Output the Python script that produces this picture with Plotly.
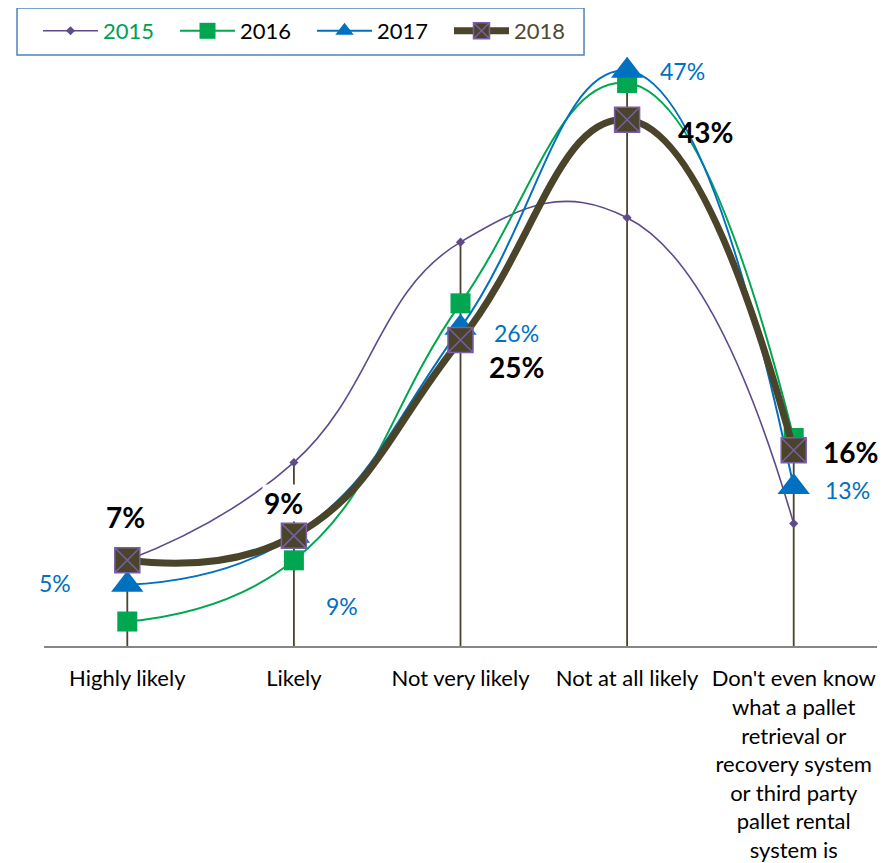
import plotly.graph_objects as go

categories = [
    "Highly likely",
    "Likely",
    "Not very likely",
    "Not at all likely",
    "Don't even know<br>what a pallet<br>retrieval or<br>recovery system<br>or third party<br>pallet rental<br>system is",
]
years = ["2015", "2016", "2017", "2018"]
v2015 = [7, 15, 33, 35, 10]
v2016 = [2, 7, 28, 46, 17]
v2017 = [5, 9, 26, 47, 13]
v2018 = [7, 9, 25, 43, 16]

# styling
colors = {"2015": "#5f4b8b", "2016": "#00a650", "2017": "#0070c0", "2018": "#4a442a"}
legend_text = {"2015": "#00a04f", "2016": "#000000", "2017": "#000000", "2018": "#4f4a32"}
FONT = "Lato"
SMOOTH = 1.3

# label offsets in px (dx right, dy down) from each point
off2018 = [(-2, -43), (-10, -33), (56, 27), (78, 12), (57, 2)]
bg2018 = ["white", "white", "white", "rgba(0,0,0,0)", "white"]
off2017 = [(-72, -2), (48, 70), (56, 5), (55, 0), (54, 3)]

fig = go.Figure()

# drop lines from the highest point of each category to the axis
all_vals = [v2015, v2016, v2017, v2018]
dx, dy = [], []
for i, c in enumerate(categories):
    dx += [c, c, None]
    dy += [0, max(s[i] for s in all_vals), None]
fig.add_trace(go.Scatter(x=dx, y=dy, mode="lines", showlegend=False, hoverinfo="skip",
                         line=dict(color="#4a442a", width=1.8)))

def name(y):
    return f"<span style='color:{legend_text[y]}'>{y}</span>"

fig.add_trace(go.Scatter(x=categories, y=v2015, name=name("2015"), mode="lines+markers",
                         line=dict(color=colors["2015"], width=1.6, shape="spline", smoothing=SMOOTH),
                         marker=dict(symbol="diamond", size=7, color=colors["2015"])))
fig.add_trace(go.Scatter(x=categories, y=v2016, name=name("2016"), mode="lines+markers",
                         line=dict(color=colors["2016"], width=2, shape="spline", smoothing=SMOOTH),
                         marker=dict(symbol="square", size=20, color=colors["2016"])))
fig.add_trace(go.Scatter(x=categories, y=v2017, name=name("2017"), mode="lines+markers",
                         line=dict(color=colors["2017"], width=2, shape="spline", smoothing=SMOOTH),
                         marker=dict(symbol="triangle-up", size=28, color=colors["2017"])))
fig.add_trace(go.Scatter(x=categories, y=v2018, name=name("2018"), mode="lines+markers",
                         line=dict(color=colors["2018"], width=7, shape="spline", smoothing=SMOOTH),
                         marker=dict(symbol="square-x", size=25, color=colors["2018"],
                                     line=dict(color="#7a5ea8", width=1.5))))

annotations = []
for i, c in enumerate(categories):
    ox, oy = off2018[i]
    annotations.append(dict(x=c, y=v2018[i], text=f"{v2018[i]}%", showarrow=False,
                            xshift=ox, yshift=-oy, bgcolor=bg2018[i], borderpad=1,
                            font=dict(family=FONT, size=28, color="black", weight="bold")))
    ox, oy = off2017[i]
    annotations.append(dict(x=c, y=v2017[i], text=f"{v2017[i]}%", showarrow=False,
                            xshift=ox, yshift=-oy,
                            font=dict(family=FONT, size=23, color=colors["2017"])))

fig.update_layout(
    width=887, height=855,
    margin=dict(l=36, r=18, t=42, b=217, autoexpand=False),
    paper_bgcolor="white", plot_bgcolor="white",
    font=dict(family=FONT, size=22, color="black"),
    annotations=annotations,
    showlegend=True,
    legend=dict(orientation="h", x=-0.0072, y=1.0671, xanchor="left", yanchor="top",
                borderwidth=0, bgcolor="rgba(0,0,0,0)",
                font=dict(family=FONT, size=22), itemwidth=55,
                entrywidth=67, entrywidthmode="pixels"),
    xaxis=dict(type="category", range=[-0.5, 4.5], showgrid=False, zeroline=False,
               showline=True, linecolor="#868686", linewidth=2, ticks="",
               ticklabelstandoff=12, tickfont=dict(family=FONT, size=22, color="black")),
    yaxis=dict(range=[0, 48.7], visible=False, showgrid=False, zeroline=False),
    shapes=[
        # legend frame
        dict(type="rect", xref="paper", yref="paper", x0=-0.0324, x1=0.6483,
             y0=0.9916, y1=1.0705, line=dict(color="#4f81bd", width=1.5), layer="below"),
        # right edge strip
        dict(type="line", xref="paper", yref="paper", x0=1.0192, x1=1.0192,
             y0=-0.37, y1=1.09, line=dict(color="#d9d4bf", width=3)),
    ],
)
fig.update_traces(cliponaxis=False)

fig.write_html("out.html")
